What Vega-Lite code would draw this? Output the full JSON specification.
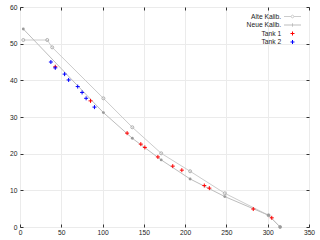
{
  "$schema": "https://vega.github.io/schema/vega-lite/v6.json",
  "width": 289,
  "height": 220,
  "autosize": {"type": "none"},
  "padding": {"left": 20, "top": 7, "right": 11, "bottom": 13},
  "background": "white",
  "config": {
    "font": "Liberation Sans",
    "view": {"stroke": "#333333", "strokeWidth": 1},
    "axis": {
      "labelFont": "Liberation Sans",
      "labelFontSize": 6.7,
      "labelColor": "#222222",
      "domain": false,
      "tickColor": "#333333",
      "tickSize": -3,
      "gridColor": "#ebebeb",
      "gridWidth": 1,
      "title": null
    }
  },
  "data": {
    "values": [
      {"series": "Alte Kalib.", "x": 4, "y": 51},
      {"series": "Alte Kalib.", "x": 33, "y": 51},
      {"series": "Alte Kalib.", "x": 39, "y": 49},
      {"series": "Alte Kalib.", "x": 101, "y": 35.1},
      {"series": "Alte Kalib.", "x": 136, "y": 27.2},
      {"series": "Alte Kalib.", "x": 171, "y": 20.1},
      {"series": "Alte Kalib.", "x": 206, "y": 15.2},
      {"series": "Alte Kalib.", "x": 248, "y": 9.2},
      {"series": "Alte Kalib.", "x": 301, "y": 3.2},
      {"series": "Alte Kalib.", "x": 315, "y": 0},
      {"series": "Neue Kalib.", "x": 4, "y": 54},
      {"series": "Neue Kalib.", "x": 101, "y": 31.2},
      {"series": "Neue Kalib.", "x": 136, "y": 24.2},
      {"series": "Neue Kalib.", "x": 171, "y": 18.3},
      {"series": "Neue Kalib.", "x": 206, "y": 13.1},
      {"series": "Neue Kalib.", "x": 248, "y": 8.3},
      {"series": "Neue Kalib.", "x": 301, "y": 3.2},
      {"series": "Neue Kalib.", "x": 315, "y": 0},
      {"series": "Tank 1", "x": 42.7, "y": 43.7},
      {"series": "Tank 1", "x": 85.4, "y": 34.4},
      {"series": "Tank 1", "x": 129.7, "y": 25.6},
      {"series": "Tank 1", "x": 146.3, "y": 22.6},
      {"series": "Tank 1", "x": 151.2, "y": 21.7},
      {"series": "Tank 1", "x": 167, "y": 19.1},
      {"series": "Tank 1", "x": 185, "y": 16.6},
      {"series": "Tank 1", "x": 196, "y": 15.5},
      {"series": "Tank 1", "x": 223.2, "y": 11.3},
      {"series": "Tank 1", "x": 229.3, "y": 10.6},
      {"series": "Tank 1", "x": 282.5, "y": 4.9},
      {"series": "Tank 1", "x": 304.9, "y": 2.5},
      {"series": "Tank 2", "x": 37.4, "y": 45.0},
      {"series": "Tank 2", "x": 42.7, "y": 43.4},
      {"series": "Tank 2", "x": 54, "y": 41.7},
      {"series": "Tank 2", "x": 58.9, "y": 40.1},
      {"series": "Tank 2", "x": 69.9, "y": 38.3},
      {"series": "Tank 2", "x": 75.2, "y": 36.7},
      {"series": "Tank 2", "x": 80.1, "y": 35.1},
      {"series": "Tank 2", "x": 90.2, "y": 32.7}
    ]
  },
  "resolve": {"axis": {"x": "independent", "y": "independent"}},
  "layer": [
    {
      "transform": [{"filter": "datum.series === 'Alte Kalib.' || datum.series === 'Neue Kalib.'"}],
      "mark": {"type": "line", "strokeWidth": 1},
      "encoding": {
        "x": {"field": "x", "type": "quantitative",
              "scale": {"domain": [0, 350], "nice": false, "zero": false},
              "axis": {"orient": "bottom", "values": [0, 50, 100, 150, 200, 250, 300, 350], "grid": true, "labelPadding": 5, "labelFlush": false}},
        "y": {"field": "y", "type": "quantitative",
              "scale": {"domain": [0, 60], "nice": false},
              "axis": {"orient": "left", "values": [0, 10, 20, 30, 40, 50, 60], "grid": true, "labelPadding": 6, "labelFlush": false}},
        "color": {"field": "series", "type": "nominal",
                  "scale": {"domain": ["Alte Kalib.", "Neue Kalib.", "Tank 1", "Tank 2"],
                            "range": ["#cccccc", "#bdbdbd", "#ff0000", "#0000ff"]},
                  "legend": {
                    "orient": "top-right",
                    "offset": 6,
                    "title": null,
                    "padding": 0,
                    "labelFont": "Liberation Sans",
                    "labelFontSize": 6.7,
                    "labelColor": "#222222",
                    "labelAlign": "right",
                    "labelOffset": -14.8,
                    "symbolSize": 36,
                    "symbolStrokeWidth": 1,
                    "rowPadding": -0.5,
                    "encode": {
                      "symbols": {
                        "update": {
                          "shape": {"signal": "datum.value === 'Alte Kalib.' ? 'M-2.83,0H-0.45M0.45,0H2.83M0.45,0A0.45,0.45 0 1 1 -0.45,0A0.45,0.45 0 1 1 0.45,0' : datum.value === 'Neue Kalib.' ? 'M-2.83,0H2.83M0,-0.55V0.55' : 'M-0.67,0H0.67M0,-0.67V0.67'"},
                          "fill": {"value": "transparent"},
                          "stroke": {"signal": "datum.value === 'Alte Kalib.' ? '#b0b0b0' : datum.value === 'Neue Kalib.' ? '#a0a0a0' : datum.value === 'Tank 1' ? '#ff0000' : '#0000ff'"},
                          "strokeWidth": {"value": 1},
                          "opacity": {"value": 1}
                        }
                      }
                    }
                  }},
        "detail": {"field": "series"}
      }
    },
    {
      "transform": [{"filter": "datum.series === 'Alte Kalib.'"}],
      "mark": {"type": "point", "shape": "circle", "filled": false, "size": 9, "strokeWidth": 1, "color": "#b0b0b0", "opacity": 1},
      "encoding": {
        "x": {"field": "x", "type": "quantitative",
              "axis": {"orient": "top", "values": [0, 50, 100, 150, 200, 250, 300, 350], "grid": false, "labels": false}},
        "y": {"field": "y", "type": "quantitative",
              "axis": {"orient": "right", "values": [0, 10, 20, 30, 40, 50, 60], "grid": false, "labels": false}}
      }
    },
    {
      "transform": [{"filter": "datum.series === 'Neue Kalib.'"}],
      "mark": {"type": "point", "shape": "circle", "filled": true, "size": 8, "color": "#9a9a9a", "opacity": 1},
      "encoding": {
        "x": {"field": "x", "type": "quantitative", "axis": null},
        "y": {"field": "y", "type": "quantitative", "axis": null}
      }
    },
    {
      "transform": [{"filter": "datum.series === 'Tank 1' || datum.series === 'Tank 2'"}],
      "mark": {"type": "point", "shape": "M-1,0H1M0,-1V1", "filled": false, "size": 16, "strokeWidth": 1, "opacity": 1},
      "encoding": {
        "x": {"field": "x", "type": "quantitative", "axis": null},
        "y": {"field": "y", "type": "quantitative", "axis": null},
        "color": {"field": "series", "type": "nominal"}
      }
    }
  ]
}
